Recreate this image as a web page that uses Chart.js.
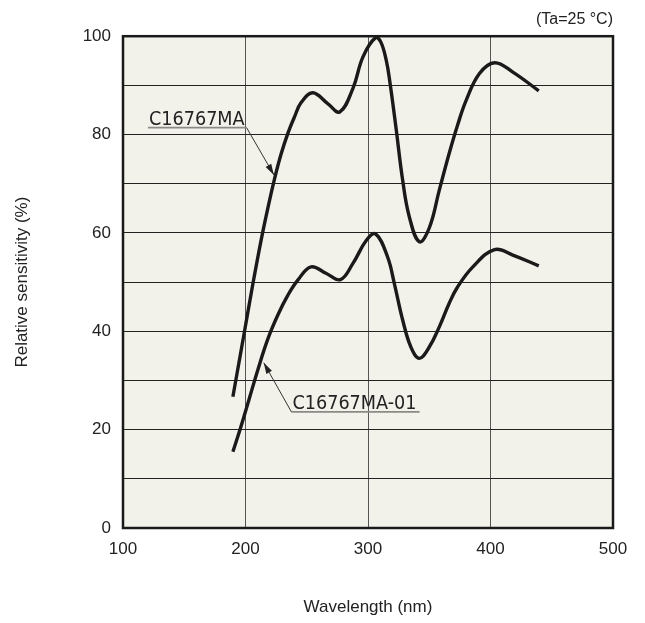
<!DOCTYPE html>
<html>
<head>
<meta charset="utf-8">
<script src="https://cdn.jsdelivr.net/npm/chart.js@4/dist/chart.umd.min.js"></script>
<style>
  html, body { margin: 0; padding: 0; background: #fff; }
  #wrap { width: 645px; height: 623px; }
</style>
</head>
<body>
<div id="wrap"><canvas id="chart"></canvas></div>
<script>
// C16767MA
const waveA = [189.7, 199.2, 206, 212.8, 218.2, 223.7, 229, 234.5, 240, 245.4, 254.9, 267.1, 276.9, 287.7, 295.9, 306.2, 310.5, 315, 317.8, 322.8, 328.3, 333.7, 341.9, 350, 358.2, 366.3, 373.1, 380.2, 391, 403.3, 418.2, 439.4];
const sensA = [26.7, 40, 49.6, 58.6, 65, 71, 76, 80.2, 83.6, 86.5, 88.5, 86.3, 84.6, 89.4, 95.8, 99.7, 98.8, 95, 90.8, 81.5, 70.7, 63.3, 58.2, 61, 68.7, 76.2, 81.9, 87, 92.4, 94.6, 92.7, 88.9];

// C16767MA-01
const waveB = [189.7, 196.5, 203.3, 210.1, 218.2, 226.4, 234.5, 242.7, 253.5, 265.7, 277.5, 287.7, 298.7, 306.2, 316, 321.5, 328.3, 335, 341.9, 350, 358.2, 366.3, 373.1, 385.6, 403.3, 418.2, 439.4];
const sensB = [15.5, 20.8, 26.5, 32.2, 38.4, 43.3, 47.3, 50.4, 53.1, 51.8, 50.5, 53.8, 58.5, 59.8, 55.1, 49.7, 42.3, 36.8, 34.5, 36.8, 40.9, 45.7, 49, 53.1, 56.6, 55.5, 53.3];

// callouts: label, underline start/end, arrow tip (data units)
const callouts = [
  { text: "C16767MA", x1: 120.4, x2: 200.9, y: 81.4, tipX: 223.2, tipY: 71.8, from: "right" },
  { text: "C16767MA-01", x1: 237.5, x2: 342.1, y: 23.6, tipX: 214.9, tipY: 33.6, from: "left" }
];

const toPoints = (xs, ys) => xs.map((x, i) => ({ x: x, y: ys[i] }));

const frame = {
  id: "frame",
  beforeDraw(chart) {
    const { ctx, chartArea: a } = chart;
    ctx.save();
    ctx.fillStyle = "#f2f1ea";
    ctx.fillRect(a.left, a.top, a.right - a.left, a.bottom - a.top);
    ctx.restore();
  },
  afterDraw(chart) {
    const { ctx, chartArea: a, scales } = chart;
    ctx.save();
    ctx.strokeStyle = "#1a1a1a";
    ctx.lineWidth = 2.5;
    ctx.strokeRect(a.left, a.top, a.right - a.left, a.bottom - a.top);

    callouts.forEach(c => {
      const x1 = scales.x.getPixelForValue(c.x1);
      const x2 = scales.x.getPixelForValue(c.x2);
      const y = scales.y.getPixelForValue(c.y);
      const tx = scales.x.getPixelForValue(c.tipX);
      const ty = scales.y.getPixelForValue(c.tipY);
      const sx = c.from === "right" ? x2 : x1;

      ctx.font = "19.6px 'DejaVu Sans Condensed', 'DejaVu Sans', sans-serif";
      ctx.fillStyle = "#222";
      ctx.textBaseline = "alphabetic";
      ctx.textAlign = "left";
      ctx.fillText(c.text, x1 + 1, y - 3);

      ctx.strokeStyle = "#8a8a86";
      ctx.lineWidth = 1.8;
      ctx.beginPath();
      ctx.moveTo(x1, y);
      ctx.lineTo(x2, y);
      ctx.stroke();

      ctx.strokeStyle = "#333";
      ctx.lineWidth = 1;
      ctx.beginPath();
      ctx.moveTo(sx, y);
      ctx.lineTo(tx, ty);
      ctx.stroke();

      const ang = Math.atan2(ty - y, tx - sx);
      const len = 11, w = 3.2;
      ctx.fillStyle = "#222";
      ctx.beginPath();
      ctx.moveTo(tx, ty);
      ctx.lineTo(tx - len * Math.cos(ang) + w * Math.sin(ang), ty - len * Math.sin(ang) - w * Math.cos(ang));
      ctx.lineTo(tx - len * Math.cos(ang) - w * Math.sin(ang), ty - len * Math.sin(ang) + w * Math.cos(ang));
      ctx.closePath();
      ctx.fill();
    });
    ctx.restore();
  }
};

const lineStyle = {
  borderColor: "#1a1a1a",
  borderWidth: 3.4,
  pointRadius: 0,
  fill: false,
  tension: 0.4,
  borderCapStyle: "butt",
  borderJoinStyle: "round"
};

new Chart(document.getElementById("chart"), {
  type: "line",
  data: {
    datasets: [
      Object.assign({ label: "C16767MA", data: toPoints(waveA, sensA) }, lineStyle),
      Object.assign({ label: "C16767MA-01", data: toPoints(waveB, sensB) }, lineStyle)
    ]
  },
  options: {
    responsive: true,
    maintainAspectRatio: false,
    animation: false,
    layout: { padding: { left: 0, right: 32, top: 0, bottom: 0 } },
    plugins: {
      legend: { display: false },
      tooltip: { enabled: false },
      title: {
        display: true,
        text: "(Ta=25 °C)",
        align: "end",
        color: "#222",
        font: { family: "'Liberation Sans', Arial, sans-serif", size: 16, weight: "normal", lineHeight: 1.2 },
        padding: { top: 10, bottom: 7 }
      }
    },
    scales: {
      x: {
        type: "linear",
        min: 100,
        max: 500,
        ticks: {
          stepSize: 100,
          color: "#222",
          padding: 11,
          maxRotation: 0,
          font: { family: "'Liberation Sans', Arial, sans-serif", size: 17 }
        },
        grid: { color: "#555", lineWidth: 1, drawTicks: false },
        border: { display: false },
        title: {
          display: true,
          text: "Wavelength (nm)",
          color: "#222",
          font: { family: "'Liberation Sans', Arial, sans-serif", size: 17 },
          padding: { top: 0, bottom: 5 }
        },
        afterFit(scale) { scale.height = 95; }
      },
      y: {
        min: 0,
        max: 100,
        ticks: {
          stepSize: 10,
          color: "#222",
          padding: 12,
          font: { family: "'Liberation Sans', Arial, sans-serif", size: 17 },
          callback: v => (v % 20 === 0 ? String(v) : "")
        },
        grid: { color: "#222", lineWidth: 1, drawTicks: false },
        border: { display: false },
        title: {
          display: true,
          text: "Relative sensitivity (%)",
          color: "#222",
          font: { family: "'Liberation Sans', Arial, sans-serif", size: 17 },
          padding: { top: 12, bottom: 0 }
        },
        afterFit(scale) { scale.width = 123; }
      }
    }
  },
  plugins: [frame]
});
</script>
</body>
</html>
